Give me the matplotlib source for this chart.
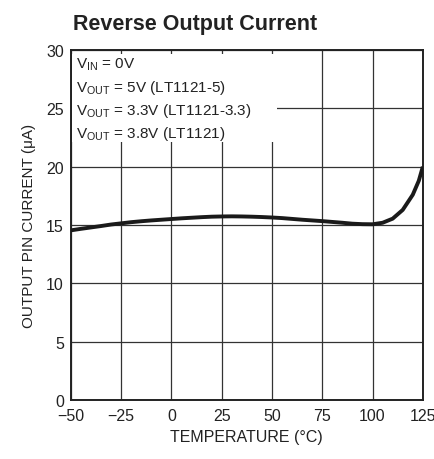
import matplotlib
matplotlib.use('Agg')
import matplotlib.pyplot as plt
from matplotlib.patches import Rectangle

# temperature (°C) and reverse output pin current (uA)
temp = [-50, -45, -40, -35, -30, -25, -20, -15, -10, -5, 0, 5, 10, 15, 20, 25, 30,
        35, 40, 45, 50, 55, 60, 65, 70, 75, 80, 85, 90, 95, 100, 105, 110, 115,
        120, 123, 125]
current = [14.55, 14.68, 14.8, 14.92, 15.05, 15.15, 15.25, 15.33, 15.4, 15.46,
           15.52, 15.58, 15.63, 15.68, 15.72, 15.74, 15.75, 15.74, 15.72, 15.69,
           15.65, 15.6, 15.53, 15.46, 15.4, 15.34, 15.27, 15.2, 15.12, 15.08,
           15.07, 15.2, 15.55, 16.3, 17.6, 18.8, 20.0]
xticks = [-50, -25, 0, 25, 50, 75, 100, 125]
xticklabels = ['\u221250', '\u221225', '0', '25', '50', '75', '100', '125']
yticks = [0, 5, 10, 15, 20, 25, 30]
notes = [r'V$_{\mathregular{IN}}$ = 0V',
         r'V$_{\mathregular{OUT}}$ = 5V (LT1121-5)',
         r'V$_{\mathregular{OUT}}$ = 3.3V (LT1121-3.3)',
         r'V$_{\mathregular{OUT}}$ = 3.8V (LT1121)']

plt.rcParams['font.family'] = ['Liberation Sans', 'DejaVu Sans']
plt.rcParams['mathtext.fontset'] = 'custom'
plt.rcParams['mathtext.rm'] = 'Liberation Sans'

fig = plt.figure(figsize=(4.35, 4.6), dpi=100)
ax = fig.add_axes([0.163, 0.128, 0.809, 0.761])

ax.plot(temp, current, color='#1a1a1a', lw=2.8, zorder=3, solid_capstyle='butt')
ax.set_xlim(-50, 125)
ax.set_ylim(0, 30)
ax.set_xticks(xticks)
ax.set_xticklabels(xticklabels)
ax.set_yticks(yticks)
ax.tick_params(length=0, labelsize=11.5, colors='#222222')
ax.tick_params(axis='x', pad=6)
ax.tick_params(axis='y', pad=5)
ax.grid(True, color='#333333', lw=0.9)
ax.set_axisbelow(True)
for s in ax.spines.values():
    s.set_linewidth(1.4)
    s.set_color('#222222')

# white box behind the condition notes
ax.add_patch(Rectangle((-49.5, 22.1), 102, 7.55, facecolor='white',
                       edgecolor='none', zorder=1))
for i, t in enumerate(notes):
    ax.text(-47.5, 29.55 - i * 1.95, t, fontsize=11, va='top', ha='left',
            color='#222222', zorder=4)

ax.set_xlabel('TEMPERATURE (\u00b0C)', fontsize=11.5, color='#222222', labelpad=4)
ax.set_ylabel('OUTPUT PIN CURRENT (\u03bcA)', fontsize=11, color='#222222', labelpad=7)
fig.text(0.168, 0.935, 'Reverse Output Current', fontsize=15.5, fontweight='bold',
         color='#222222', ha='left', va='baseline')

fig.savefig('out.png', dpi=100)
